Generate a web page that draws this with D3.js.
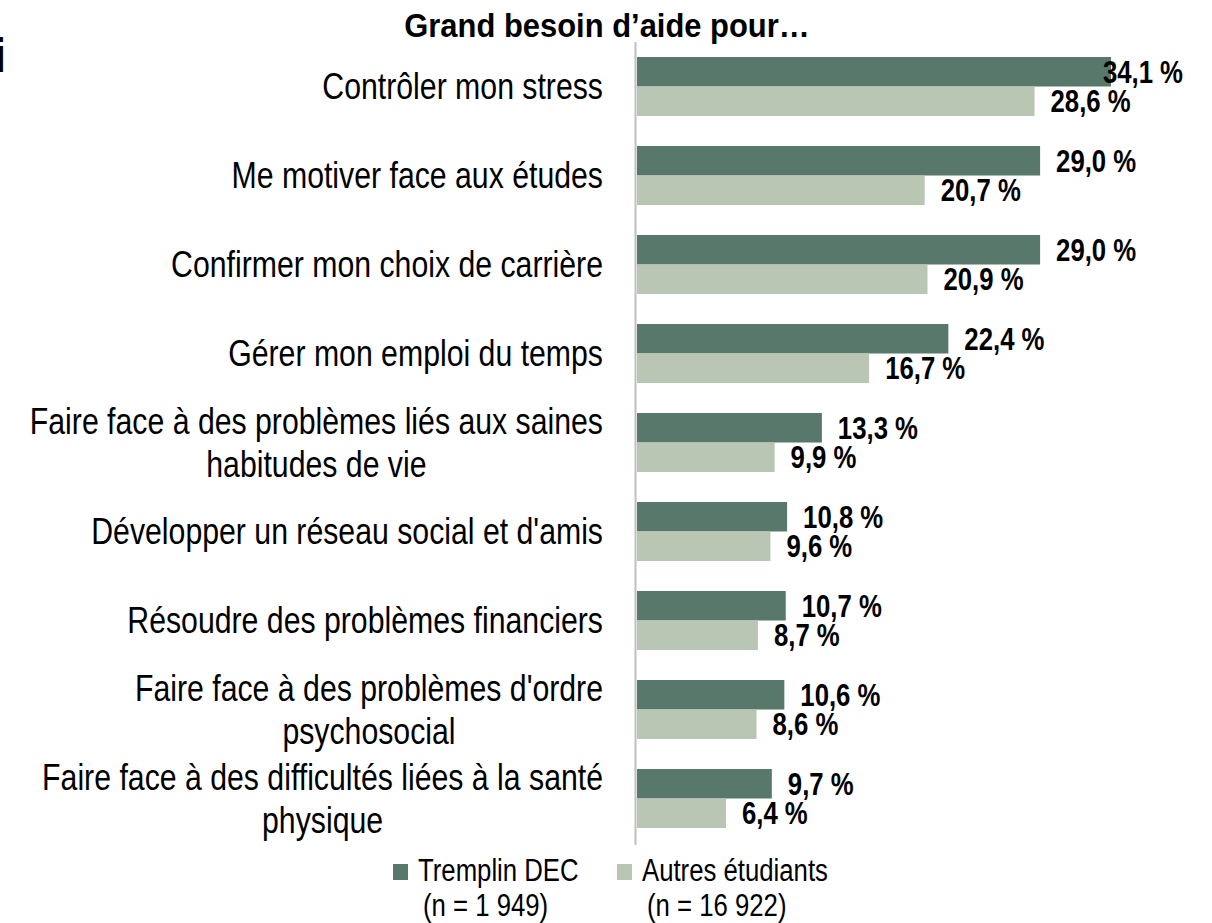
<!DOCTYPE html>
<html>
<head>
<meta charset="utf-8">
<script src="https://cdn.jsdelivr.net/npm/d3@7"></script>
<style>
  body { margin: 0; background: #fff; }
  svg text { font-family: "Liberation Sans Narrow", "Arial Narrow", "Liberation Sans", sans-serif; fill: #000; }
</style>
</head>
<body>
<div id="chart"></div>
<script>
// data
var categories = [
    "Contrôler mon stress",
    "Me motiver face aux études",
    "Confirmer mon choix de carrière",
    "Gérer mon emploi du temps",
    "Faire face à des problèmes liés aux saines\nhabitudes de vie",
    "Développer un réseau social et d'amis",
    "Résoudre des problèmes financiers",
    "Faire face à des problèmes d'ordre\npsychosocial",
    "Faire face à des difficultés liées à la santé\nphysique"
];
var tremplin = [34.1, 29.0, 29.0, 22.4, 13.3, 10.8, 10.7, 10.6, 9.7];
var autres = [28.6, 20.7, 20.9, 16.7, 9.9, 9.6, 8.7, 8.6, 6.4];
var seriesNames = ["Tremplin DEC", "Autres étudiants"];
var seriesCounts = ["(n = 1 949)", "(n = 16 922)"];
var title = "Grand besoin d\u2019aide pour\u2026";

var width = 1212, height = 923;
var colors = ["#58786b", "#b9c6b4"];
var NARROW = 0.83; // no Arial Narrow here, squeeze the glyphs instead

function squeeze(sel, f) {
    sel.each(function () {
        var w = this.getComputedTextLength();
        d3.select(this).attr("textLength", w * f).attr("lengthAdjust", "spacingAndGlyphs");
    });
}

var svg = d3.select("#chart").append("svg")
    .attr("width", width)
    .attr("height", height);

var x = d3.scaleLinear().domain([0, 40]).range([637, 637 + 40 * 13.9]);
var y = d3.scaleBand().domain(d3.range(categories.length))
    .range([42, 843]).paddingInner(30 / 89).paddingOuter(15 / 89);
var ySub = d3.scaleBand().domain([0, 1]).range([0, y.bandwidth()]);

// cropped glyph at the top left edge
svg.append("text")
    .attr("x", -7).attr("y", 72)
    .style("font-size", "48px").style("font-weight", "bold")
    .text("i");

svg.append("text")
    .attr("x", 607).attr("y", 37)
    .attr("text-anchor", "middle")
    .style("font-size", "33px").style("font-weight", "bold")
    .text(title)
    .call(squeeze, 0.937);

var rows = categories.map(function (c, i) {
    return {cat: c, i: i, values: [tremplin[i], autres[i]]};
});

var groups = svg.selectAll(".row").data(rows).enter().append("g")
    .attr("class", "row")
    .attr("transform", function (d) { return "translate(0," + y(d.i) + ")"; });

groups.selectAll("rect").data(function (d) { return d.values; }).enter().append("rect")
    .attr("x", x(0))
    .attr("y", function (d, j) { return ySub(j); })
    .attr("width", function (d) { return x(d) - x(0); })
    .attr("height", ySub.bandwidth())
    .attr("fill", function (d, j) { return colors[j]; });

groups.selectAll(".val").data(function (d) { return d.values; }).enter().append("text")
    .attr("class", "val")
    .attr("y", function (d, j) { return ySub(j) + ySub.bandwidth() / 2; })
    .attr("dy", "0.36em")
    .style("font-size", "31px").style("font-weight", "bold")
    .text(function (d) { return d.toFixed(1).replace(".", ",") + " %"; })
    .call(squeeze, NARROW)
    .attr("x", function (d) {
        var w = +this.getAttribute("textLength");
        return Math.min(x(d) + 16, 1183 - w);
    });

// category labels, wrapped lines centred, block right aligned
var lineH = 43;
groups.each(function (d) {
    var g = d3.select(this);
    var lines = d.cat.split("\n");
    var cy = y.bandwidth() / 2;
    var t = g.append("text")
        .attr("text-anchor", "middle")
        .style("font-size", "36px");
    var spans = lines.map(function (l, k) {
        return t.append("tspan")
            .attr("y", cy + (k - (lines.length - 1) / 2) * lineH)
            .attr("dy", "0.36em")
            .text(l)
            .call(squeeze, 0.84);
    });
    var maxW = d3.max(spans, function (s) { return +s.attr("textLength"); });
    spans.forEach(function (s) { s.attr("x", 603 - maxW / 2); });
});

// axis line
svg.append("line")
    .attr("x1", 635.5).attr("x2", 635.5)
    .attr("y1", y.range()[0]).attr("y2", y.range()[1] + 2)
    .attr("stroke", "#bfbfbf").attr("stroke-width", 2);

// legend
var legendX = [393, 617];
var legend = svg.selectAll(".legend").data(seriesNames).enter().append("g")
    .attr("class", "legend")
    .attr("transform", function (d, i) { return "translate(" + legendX[i] + ",0)"; });
legend.append("rect")
    .attr("x", 0).attr("y", 864).attr("width", 15).attr("height", 16)
    .attr("fill", function (d, i) { return colors[i]; });
legend.append("text")
    .attr("x", 25).attr("y", 881)
    .style("font-size", "31px")
    .text(function (d) { return d; })
    .call(squeeze, NARROW);
legend.append("text")
    .attr("x", 30).attr("y", 916)
    .style("font-size", "31px")
    .text(function (d, i) { return seriesCounts[i]; })
    .call(squeeze, NARROW);
</script>
</body>
</html>
